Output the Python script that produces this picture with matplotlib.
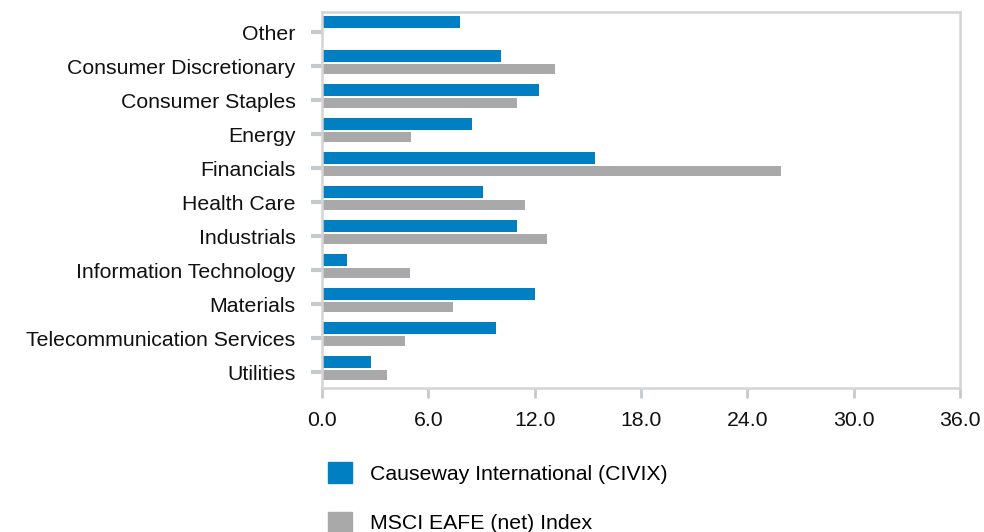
import matplotlib
matplotlib.use("Agg")
import matplotlib.pyplot as plt
from matplotlib.patches import Patch
import numpy as np

# Sector weights (%)
SECTORS = [
    "Other",
    "Consumer Discretionary",
    "Consumer Staples",
    "Energy",
    "Financials",
    "Health Care",
    "Industrials",
    "Information Technology",
    "Materials",
    "Telecommunication Services",
    "Utilities",
]
CIVIX = [7.8, 10.1, 12.25, 8.45, 15.4, 9.1, 11.0, 1.4, 12.0, 9.8, 2.75]
EAFE = [0.0, 13.15, 11.0, 5.05, 25.9, 11.45, 12.7, 4.95, 7.4, 4.7, 3.65]
XTICKS = [0, 6, 12, 18, 24, 30, 36]
SERIES_NAMES = ["Causeway International (CIVIX)", "MSCI EAFE (net) Index"]

BLUE = "#0080c3"
GRAY = "#a9a9a9"
SPINE = "#d4d4d4"
TICK = "#c5cace"
FS = 15.3

plt.rcParams["font.family"] = ["Liberation Sans", "DejaVu Sans"]

fig = plt.figure(figsize=(9.84, 5.32), dpi=100)
ax = fig.add_axes([0.3272, 0.2707, 0.6484, 0.7068])

y = np.arange(len(SECTORS))
ax.barh(y - 0.29, CIVIX, height=0.36, color=BLUE)
ax.barh(y + 0.09, EAFE, height=0.31, color=GRAY)

ax.set_xlim(0, 36)
ax.set_ylim(10.47, -0.59)
ax.set_xticks(XTICKS)
ax.set_xticklabels([f"{v:.1f}" for v in XTICKS], fontsize=FS)
ax.set_yticks(y)
ax.set_yticklabels(SECTORS, fontsize=FS)

for side in ["left", "right", "top", "bottom"]:
    ax.spines[side].set_color(SPINE)
    ax.spines[side].set_linewidth(1.8)
ax.tick_params(axis="x", length=7, width=2, color=TICK, pad=9.5, labelcolor="#111111")
ax.tick_params(axis="y", length=8, width=3, color=TICK, pad=11, labelcolor="#111111")

handles = [Patch(color=BLUE), Patch(color=GRAY)]
fig.legend(handles, SERIES_NAMES, loc="upper left", bbox_to_anchor=(0.3333, 0.131),
           frameon=False, fontsize=FS, handlelength=1.15, handleheight=1.15,
           labelspacing=1.3, handletextpad=0.85, borderpad=0, borderaxespad=0)

fig.savefig("out.png", dpi=100)
